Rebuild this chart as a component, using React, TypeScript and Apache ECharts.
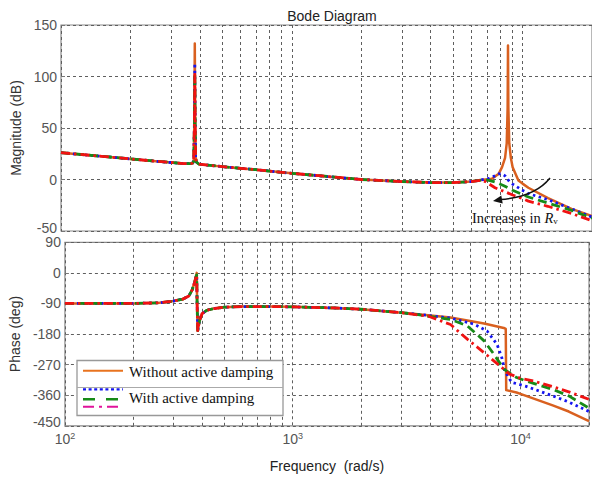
import React, { useEffect, useRef } from 'react';
import * as echarts from 'echarts';

const FONT_SANS = '"Liberation Sans", Arial, sans-serif';
const FONT_SERIF = '"Liberation Serif", "Times New Roman", serif';

// ---------- axes ----------
const freqMin = 100;
const freqMax = 20000;
const minorGridFreqs = [200, 300, 400, 500, 600, 700, 800, 900, 2000, 3000, 4000, 5000, 6000, 7000, 8000, 9000];
const magMin = -50, magMax = 150, magStep = 50;
const phaseMin = -450, phaseMax = 90, phaseStep = 90;

// ---------- magnitude (dB) ----------
const magLowFreq = [100, 150, 200, 250, 300, 340, 365, 372, 376, 378.5, 380, 381.5, 383, 386, 395, 430, 500, 700, 1000, 1500, 2000, 3000, 4000, 5000, 6000, 6600];

const magOrangeHighFreq = [7370, 7890, 8150, 8400, 8540, 8620, 8650, 8680, 8760, 8900, 9060, 9600, 10000, 10600, 12900, 16300, 20000];
const magOrangeDb = [26, 22.5, 20, 18, 16.5, 15.5, 15.5, 16, 18, 60, 132, 60, 22, 17, 15, 14, 12.5, 9.5, 6, 2.5, 0, -2, -3, -3, -2, -0.5,
  0.7, 5.7, 12, 21, 35, 70, 130, 70, 35, 21, 12, -1, -4, -8, -18, -28.5, -35.5];

const magBlueHighFreq = [7150, 7600, 7900, 8150, 8400, 8800, 9060, 10000, 10600, 12860, 16300, 20000];
const magBlueDb = [26, 22.5, 20, 18, 16.5, 15.5, 15.5, 16, 18, 55, 113, 55, 22, 17, 15, 14, 12.5, 9.5, 6, 2.5, 0, -2, -3, -3, -2, -0.5,
  1, 3.5, 5.5, 5.5, 3.5, -2.4, -4.5, -10.5, -13.7, -19.5, -28.5, -36.5];

const magGreenHighFreq = [7150, 7600, 8300, 9060, 10000, 10600, 12860, 16300, 20000];
const magGreenDb = [26, 22.5, 20, 18, 16.5, 15.5, 15.5, 16, 18, 52, 103, 52, 22, 17, 15, 14, 12.5, 9.5, 6, 2.5, 0, -2, -3, -3, -2, -0.5,
  -0.8, -2.4, -6, -10.5, -14.5, -17, -22.8, -30, -37.5];

const magRedHighFreq = [6900, 7600, 8300, 9060, 10000, 10600, 12860, 16300, 20000];
const magRedDb = [26, 22.5, 20, 18, 16.5, 15.5, 15.5, 16, 18, 52, 102, 52, 22, 17, 15, 14, 12.5, 9.5, 6, 2.5, 0, -2, -3, -3, -2, -0.8,
  -2, -8, -11.5, -15, -18.5, -21, -26, -33, -40];

// ---------- phase (deg) ----------
const phaseLowFreq = [100, 200, 260, 300, 330, 350, 362, 372, 377, 379, 380.5, 383, 390, 400, 420, 450, 500, 600, 800, 1000, 1500, 2000, 3000, 3556];

const phaseOrangeHighFreq = [4933, 6925, 8450, 8620, 8660, 9616, 10000, 13860, 16300, 20000];
const phaseOrangeDeg = [-90, -90, -88, -83, -77, -68, -50, -25, -8, 0, -90, -170, -140, -120, -110, -105, -101, -99, -99, -100, -103, -107, -117, -122,
  -131, -149, -162, -165, -345, -352, -356, -390, -408, -436];

const phaseBlueHighFreq = [4933, 6266, 7138, 7891, 8279, 8531, 9141, 10600, 13860, 16300, 20000];
const phaseBlueDeg = [-90, -90, -88, -83, -77, -68, -50, -25, -10, -6, -90, -170, -140, -120, -110, -105, -101, -99, -99, -100, -103, -107, -117, -122,
  -133, -151, -171, -210, -249, -288, -322, -334, -362, -380, -408];

const phaseGreenHighFreq = [4933, 5845, 6925, 7643, 8450, 9616, 10600, 13860, 16300, 20000];
const phaseGreenDeg = [-90, -90, -88, -83, -77, -68, -50, -25, -10, -6, -90, -170, -140, -120, -110, -105, -101, -99, -99, -100, -103, -107, -117, -123,
  -137, -156, -200, -239, -283, -308, -318, -343, -362, -398];

const phaseRedHighFreq = [3926, 4933, 5845, 6925, 8138, 8967, 10000, 11380, 13860, 16300, 20000];
const phaseRedDeg = [-90, -90, -88, -83, -77, -68, -50, -25, -10, -6, -90, -170, -140, -120, -110, -105, -101, -99, -99, -100, -103, -107, -117, -124,
  -127, -152, -195, -235, -274, -298, -310, -318, -335, -350, -372];

// ---------- styles ----------
const ORANGE = '#D9601F';
const BLUE = '#1414F0';
const GREEN = '#178A17';
const RED = '#F01212';
const MAGENTA = '#E0139A';
const GRID_LINE = { color: '#5e5e5e', type: [3, 3] as number[], width: 1 };

const zip = (f: number[], v: number[]) => f.map((x, i) => [x, v[i]]);

const seriesDefs = [
  { name: 'Without active damping', color: ORANGE, width: 2.5, dash: 'solid' as any,
    mag: zip(magLowFreq.concat(magOrangeHighFreq), magOrangeDb), ph: zip(phaseLowFreq.concat(phaseOrangeHighFreq), phaseOrangeDeg) },
  { name: 'With active damping 1', color: BLUE, width: 2.8, dash: [2.5, 3.5],
    mag: zip(magLowFreq.concat(magBlueHighFreq), magBlueDb), ph: zip(phaseLowFreq.concat(phaseBlueHighFreq), phaseBlueDeg) },
  { name: 'With active damping 2', color: GREEN, width: 2.8, dash: [9, 5],
    mag: zip(magLowFreq.concat(magGreenHighFreq), magGreenDb), ph: zip(phaseLowFreq.concat(phaseGreenHighFreq), phaseGreenDeg) },
  { name: 'With active damping 3', color: RED, width: 2.8, dash: [9, 4, 2.5, 4],
    mag: zip(magLowFreq.concat(magRedHighFreq), magRedDb), ph: zip(phaseLowFreq.concat(phaseRedHighFreq), phaseRedDeg) },
];

function buildOption(): any {
  const tickLabel = { color: '#555', fontSize: 14, fontFamily: FONT_SANS };
  const xAxisBase = {
    type: 'log', logBase: 10, min: freqMin, max: freqMax,
    axisLine: { show: false },
    axisTick: { show: true, inside: true, length: 4, lineStyle: { color: '#777' } },
    splitLine: { show: true, lineStyle: GRID_LINE },
  };
  const yAxisBase = {
    type: 'value',
    axisLine: { show: false },
    axisTick: { show: true, inside: true, length: 4, lineStyle: { color: '#777' } },
    splitLine: { show: true, lineStyle: GRID_LINE },
    nameLocation: 'middle',
    nameTextStyle: { color: '#333', fontSize: 14, fontFamily: FONT_SANS },
  };

  const series: any[] = [];
  [0, 1].forEach((g) => {
    series.push({
      type: 'line', xAxisIndex: g, yAxisIndex: g, data: [], silent: true,
      markLine: {
        silent: true, symbol: ['none', 'none'], z: 1, animation: false,
        label: { show: false }, lineStyle: GRID_LINE,
        data: minorGridFreqs.map((f) => ({ xAxis: f })),
      },
    });
    seriesDefs.forEach((s) => {
      series.push({
        name: s.name, type: 'line', xAxisIndex: g, yAxisIndex: g, z: 3,
        data: g === 0 ? s.mag : s.ph,
        showSymbol: false, symbol: 'none',
        lineStyle: { color: s.color, width: s.width, type: s.dash, cap: 'butt', join: 'round' },
        itemStyle: { color: s.color },
      });
    });
  });

  // the lowest tick label of each panel is nudged up a little, as in the reference
  const lowLabel = (min: number) => ({
    ...tickLabel, margin: 4,
    formatter: (v: number) => (v === min ? '{lo|' + v + '}' : String(v)),
    rich: { lo: { ...tickLabel, padding: [0, 0, 7, 0] } },
  });

  return {
    animation: false,
    backgroundColor: '#fff',
    title: {
      text: 'Bode Diagram', left: 327, top: 4, textAlign: 'center',
      textStyle: { fontSize: 14, fontWeight: 'normal', color: '#222', fontFamily: FONT_SANS },
    },
    grid: [
      { left: 61, top: 25, width: 532, height: 206, show: true, borderColor: '#8a8a8a', borderWidth: 1.2, backgroundColor: 'transparent', containLabel: false },
      { left: 61, top: 242.3, width: 532, height: 183.5, show: true, borderColor: '#8a8a8a', borderWidth: 1.2, backgroundColor: 'transparent', containLabel: false },
    ],
    xAxis: [
      { ...xAxisBase, gridIndex: 0, axisLabel: { show: false } },
      {
        ...xAxisBase, gridIndex: 1,
        name: 'Frequency  (rad/s)', nameLocation: 'middle', nameGap: 33,
        nameTextStyle: { color: '#222', fontSize: 14, fontFamily: FONT_SANS },
        axisLabel: {
          ...tickLabel, margin: 6,
          formatter: (v: number) => {
            const e = Math.log10(v);
            return Math.abs(e - Math.round(e)) < 1e-6 ? '10{sup|' + Math.round(e) + '}' : '';
          },
          rich: { sup: { fontSize: 9, color: '#555', fontFamily: FONT_SANS, verticalAlign: 'top', padding: [0, 0, 4, 0] } },
        },
      },
    ],
    yAxis: [
      { ...yAxisBase, gridIndex: 0, min: magMin, max: magMax, interval: magStep, name: 'Magnitude (dB)', nameGap: 34, axisLabel: lowLabel(magMin) },
      { ...yAxisBase, gridIndex: 1, min: phaseMin, max: phaseMax, interval: phaseStep, name: 'Phase (deg)', nameGap: 38, axisLabel: lowLabel(phaseMin) },
    ],
    series,
    graphic: [
      // annotation arrow
      { type: 'bezierCurve', z: 20, shape: { x1: 550, y1: 178, cpx1: 535, cpy1: 197, x2: 500, y2: 199.6 },
        style: { stroke: '#111', lineWidth: 1.5, fill: 'none' } },
      { type: 'polygon', z: 20, shape: { points: [[493, 201], [501.3, 195.6], [502.7, 203.6]] }, style: { fill: '#111' } },
      { type: 'text', z: 20, x: 472, y: 218,
        style: {
          text: 'Increases in {i|R}{sub|v}', fill: '#111', fontSize: 14.5, fontFamily: FONT_SERIF,
          verticalAlign: 'middle',
          rich: {
            i: { fontStyle: 'italic', fontSize: 14.5, fontFamily: FONT_SERIF, fill: '#111' },
            sub: { fontSize: 9, fontFamily: FONT_SERIF, verticalAlign: 'bottom', fill: '#111' },
          },
        } },
      // legend
      { type: 'rect', z: 30, shape: { x: 77, y: 360.5, width: 206, height: 55 }, style: { fill: '#fff', stroke: '#999', lineWidth: 1.3 } },
      { type: 'line', z: 31, shape: { x1: 77, y1: 387.5, x2: 283, y2: 387.5 }, style: { stroke: '#aaa', lineWidth: 1.2 } },
      { type: 'line', z: 31, shape: { x1: 83, y1: 370.7, x2: 123, y2: 370.7 }, style: { stroke: '#E8731F', lineWidth: 2 } },
      { type: 'line', z: 31, shape: { x1: 83, y1: 389.3, x2: 123, y2: 389.3 }, style: { stroke: BLUE, lineWidth: 2.2, lineDash: [3, 2.6] } },
      { type: 'line', z: 31, shape: { x1: 83, y1: 399.3, x2: 123, y2: 399.3 }, style: { stroke: GREEN, lineWidth: 2.4, lineDash: [12, 11] } },
      { type: 'line', z: 31, shape: { x1: 83, y1: 406.8, x2: 123, y2: 406.8 }, style: { stroke: MAGENTA, lineWidth: 2, lineDash: [11, 5, 3, 5] } },
      { type: 'text', z: 31, x: 129, y: 372, style: { text: 'Without active damping', fill: '#111', fontSize: 15, fontFamily: FONT_SERIF, verticalAlign: 'middle' } },
      { type: 'text', z: 31, x: 129, y: 398, style: { text: 'With active damping', fill: '#111', fontSize: 15, fontFamily: FONT_SERIF, verticalAlign: 'middle' } },
    ],
  };
}

export default function App() {
  const ref = useRef<HTMLDivElement>(null);
  useEffect(() => {
    document.body.style.margin = '0';
    if (!ref.current) return;
    const chart = echarts.init(ref.current, undefined, { renderer: 'svg' });
    chart.setOption(buildOption());
    return () => chart.dispose();
  }, []);
  return <div ref={ref} style={{ width: 592, height: 477 }} />;
}
